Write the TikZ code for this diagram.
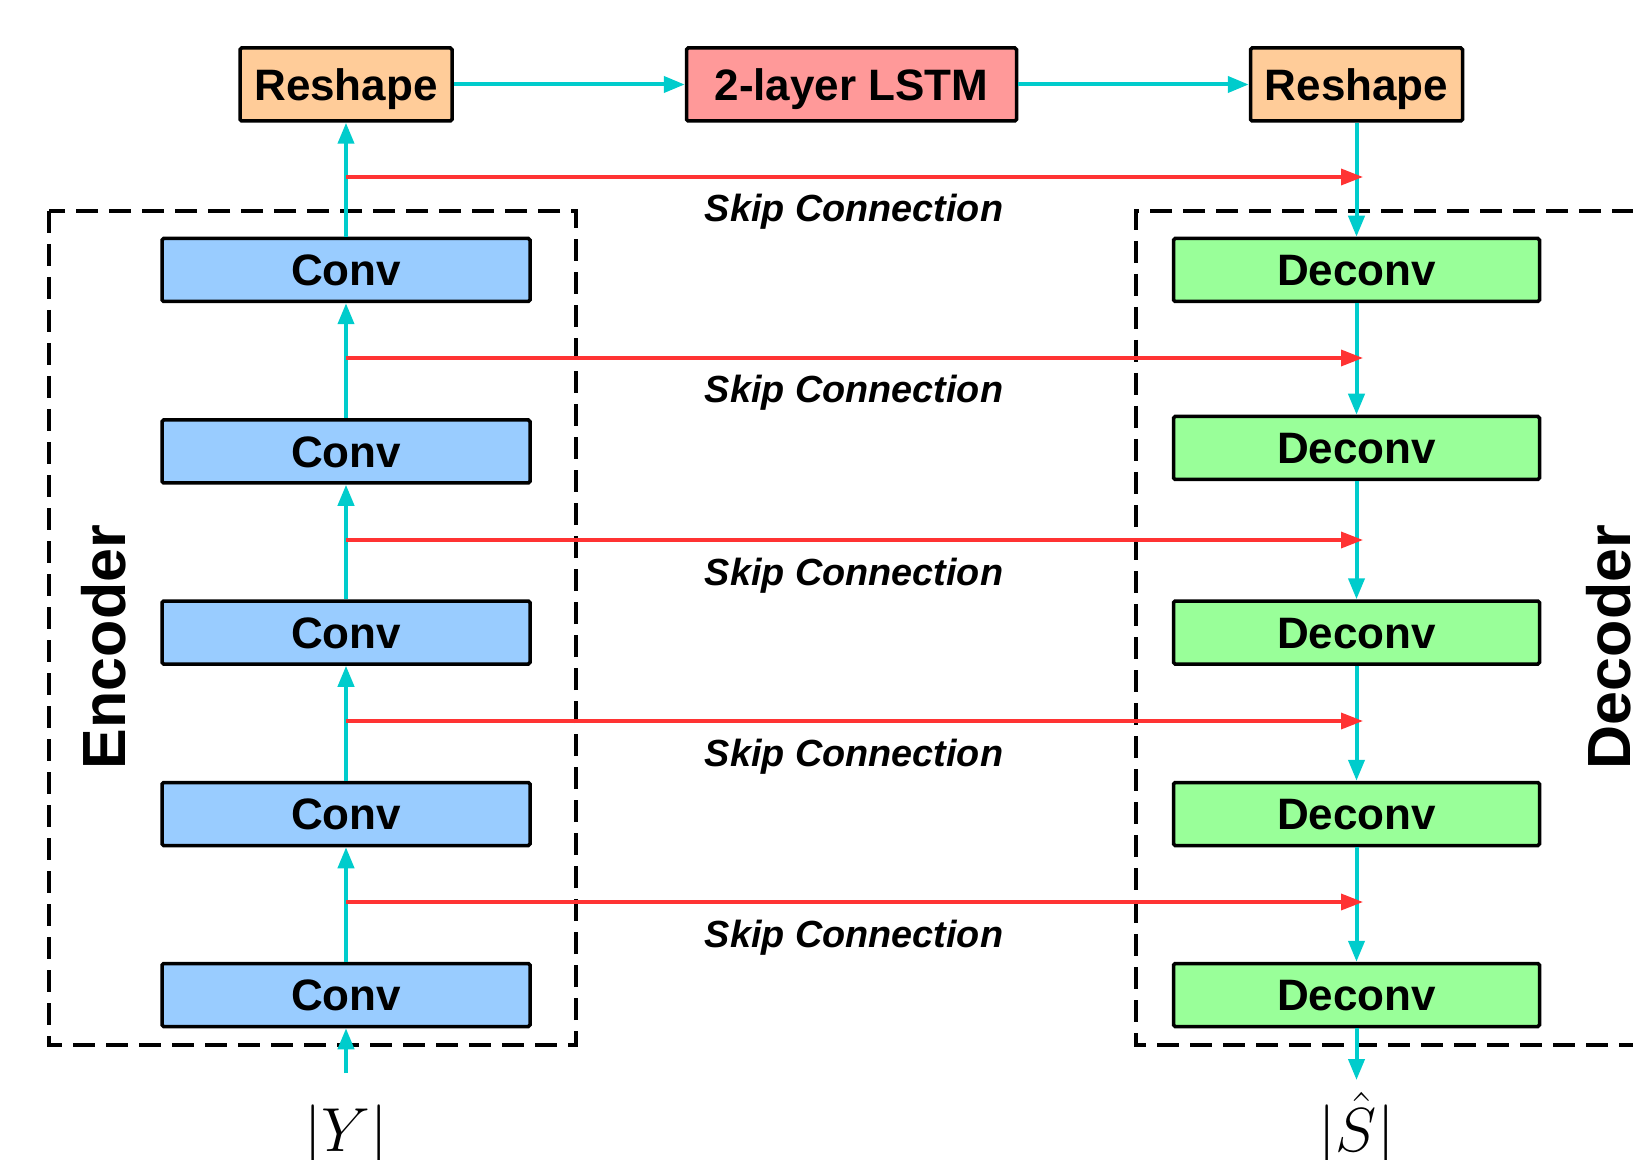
\documentclass[tikz,border=0pt]{standalone}
\usepackage{graphicx}
\usepackage{fontspec}
\setmainfont{Liberation Sans}
\usetikzlibrary{arrows.meta}
\definecolor{cyanline}{HTML}{00CCCC}
\definecolor{skipred}{HTML}{FF3333}
\definecolor{reshapefill}{HTML}{FFCC99}
\definecolor{lstmfill}{HTML}{FF9999}
\definecolor{convfill}{HTML}{99CCFF}
\definecolor{deconvfill}{HTML}{99FF99}
\tikzset{
  blockbox/.style={draw=black, line width=1.75pt, rounded corners=0.8pt, inner sep=0pt,
    font=\fontsize{22}{24}\selectfont\bfseries, text height=15.8pt, text depth=0pt},
  convbox/.style={blockbox, fill=convfill, minimum width=184pt, minimum height=31.5pt},
  deconvbox/.style={blockbox, fill=deconvfill, minimum width=183pt, minimum height=31.5pt},
  reshapebox/.style={blockbox, fill=reshapefill, minimum width=106pt, minimum height=36.5pt},
  lstmbox/.style={blockbox, fill=lstmfill, minimum width=165pt, minimum height=36.5pt},
  flow/.style={draw=cyanline, line width=2pt, -{Triangle[length=10.5pt,width=8pt]}},
  skiparrow/.style={draw=skipred, line width=1.75pt, -{Triangle[length=11pt,width=8pt]}},
  skiplabel/.style={font=\fontsize{18.9}{21}\selectfont\bfseries\itshape, text height=13.5pt, text depth=0pt, inner sep=0pt},
  groupbox/.style={draw=black, line width=2pt, dash pattern=on 11pt off 5.5pt},
  grouplabel/.style={font=\fontsize{30.5}{34}\selectfont\bfseries, rotate=90},
  mathlabel/.style={font=\fontsize{24.88}{30}\selectfont, anchor=base, inner sep=0pt}
}
\newcommand{\biglabel}[1]{\scalebox{1.25}{$#1$}}
\begin{document}
\begin{tikzpicture}[x=0.5pt,y=-0.5pt]
\useasboundingbox (0,0) rectangle (1633,1160);

% dashed group boxes
\draw[groupbox] (49,211) rectangle (576,1045);
\draw[groupbox] (1700,211) -- (1136,211) -- (1136,1045) -- (1700,1045);
\node[grouplabel] (enclab) at (104,647) {Encoder};
\node[grouplabel] (declab) at (1609,647) {Decoder};

% top row
\node[reshapebox] (rsL) at (346,84.5) {Reshape};
\node[lstmbox] (lstm) at (851.5,84.5) {2-layer LSTM};
\node[reshapebox] (rsR) at (1356.5,84.5) {Reshape};

% encoder
\node[convbox] (c1) at (346,270) {Conv};
\node[convbox] (c2) at (346,451.5) {Conv};
\node[convbox] (c3) at (346,632.5) {Conv};
\node[convbox] (c4) at (346,814) {Conv};
\node[convbox] (c5) at (346,995) {Conv};

% decoder
\node[deconvbox] (d1) at (1356.5,270) {Deconv};
\node[deconvbox] (d2) at (1356.5,448) {Deconv};
\node[deconvbox] (d3) at (1356.5,632.5) {Deconv};
\node[deconvbox] (d4) at (1356.5,814) {Deconv};
\node[deconvbox] (d5) at (1356.5,995) {Deconv};

% input / output
\coordinate (in) at (346,1073);
\coordinate (out) at (1356.5,1080);
\node[mathlabel] (ylab) at (346,1151) {\biglabel{|Y|}};
\node[mathlabel] (slab) at (1356.5,1151) {\biglabel{|\hat{S}|}};

% cyan flow
\draw[flow] (rsL.east) -- (lstm.west);
\draw[flow] (lstm.east) -- (rsR.west);
\draw[flow] (in) -- (c5.south);
\draw[flow] (c5.north) -- (c4.south);
\draw[flow] (c4.north) -- (c3.south);
\draw[flow] (c3.north) -- (c2.south);
\draw[flow] (c2.north) -- (c1.south);
\draw[flow] (c1.north) -- (rsL.south);
\draw[flow] (rsR.south) -- (d1.north);
\draw[flow] (d1.south) -- (d2.north);
\draw[flow] (d2.south) -- (d3.north);
\draw[flow] (d3.south) -- (d4.north);
\draw[flow] (d4.south) -- (d5.north);
\draw[flow] (d5.south) -- (out);

% skip connections
\foreach \i/\yy in {1/177,2/358,3/540,4/721,5/902}{
  \coordinate (sl\i) at (346,\yy);
  \coordinate (sr\i) at (1363,\yy);
  \draw[skiparrow] (sl\i) -- (sr\i);
  \node[skiplabel] (skiplab\i) at (854,\yy+31.5) {Skip Connection};
}
\end{tikzpicture}
\end{document}
